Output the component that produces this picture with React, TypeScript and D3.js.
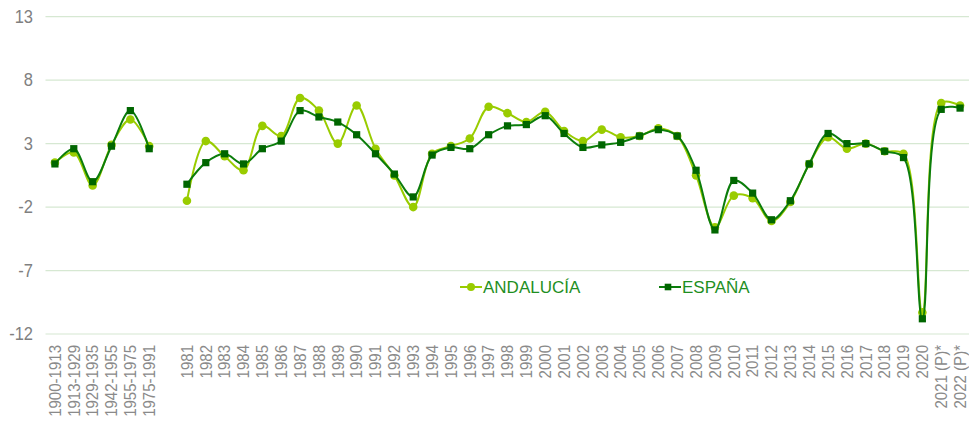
import React from "react";
import * as d3 from "d3";

const categories: string[] = [
  "1900-1913", "1913-1929", "1929-1935", "1942-1955", "1955-1975", "1975-1991", "",
  "1981", "1982", "1983", "1984", "1985", "1986", "1987", "1988", "1989", "1990",
  "1991", "1992", "1993", "1994", "1995", "1996", "1997", "1998", "1999", "2000",
  "2001", "2002", "2003", "2004", "2005", "2006", "2007", "2008", "2009", "2010",
  "2011", "2012", "2013", "2014", "2015", "2016", "2017", "2018", "2019", "2020",
  "2021 (P)*", "2022 (P)*",
];

const andalucia: (number | null)[] = [
  1.5, 2.3, -0.3, 2.9, 4.9, 2.8, null,
  -1.5, 3.2, 2.0, 0.9, 4.4, 3.6, 6.6, 5.6, 3.0, 6.0,
  2.6, 0.5, -2.0, 2.2, 2.8, 3.4, 5.9, 5.4, 4.7, 5.5,
  4.0, 3.2, 4.1, 3.5, 3.6, 4.2, 3.6, 0.5, -3.6, -1.1,
  -1.3, -3.1, -1.6, 1.4, 3.5, 2.6, 3.0, 2.4, 2.2, -10.3,
  6.2, 6.0,
];

const espana: (number | null)[] = [
  1.4, 2.6, 0.0, 2.8, 5.6, 2.6, null,
  -0.2, 1.5, 2.2, 1.4, 2.6, 3.2, 5.6, 5.1, 4.7, 3.7,
  2.2, 0.6, -1.2, 2.1, 2.7, 2.6, 3.7, 4.4, 4.5, 5.2,
  3.8, 2.7, 2.9, 3.1, 3.6, 4.1, 3.6, 0.9, -3.8, 0.1,
  -0.9, -3.0, -1.5, 1.4, 3.8, 3.0, 3.0, 2.4, 1.9, -10.8,
  5.7, 5.8,
];

const yTicks: number[] = [13, 8, 3, -2, -7, -12];
const seriesNames: string[] = ["ANDALUCÍA", "ESPAÑA"];

const W = 969;
const H = 421;
const FONT = "'Liberation Sans', Arial, sans-serif";
const COL_A = "#99cc00";
const COL_E_LINE = "#0b7d0b";
const COL_E_MARK = "#006600";

export default function App() {
  const x = d3.scaleBand<string>()
    .domain(categories.map((c, i) => String(i)))
    .range([45.5, 969.5])
    .padding(0);
  const cx = (i: number) => (x(String(i)) as number) + x.bandwidth() / 2;
  const y = d3.scaleLinear().domain([-12, 13]).range([334, 16.7]);

  const line = d3.line<number | null>()
    .defined((d) => d !== null)
    .x((_, i) => cx(i))
    .y((d) => y(d as number))
    .curve(d3.curveCatmullRom.alpha(0.5));

  const legendY = 287;

  return (
    <svg width={W} height={H} style={{ position: "absolute", left: 0, top: 0 }}>
      <rect x={0} y={0} width={W} height={H} fill="#ffffff" />
      {yTicks.map((t) => (
        <g key={t}>
          <line x1={45.5} x2={969} y1={y(t)} y2={y(t)} stroke="#d6e8d2" strokeWidth={1.2} />
          <text
            transform={`translate(33,${y(t)}) scale(1,1.06)`}
            dy="0.36em"
            textAnchor="end"
            fontFamily={FONT}
            fontSize={16.5}
            fill="#808080"
          >
            {t}
          </text>
        </g>
      ))}
      {categories.map((c, i) => (
        <text
          key={i}
          transform={`translate(${cx(i) + 5.8},${345}) rotate(-90) scale(0.94,1)`}
          textAnchor="end"
          fontFamily={FONT}
          fontSize={16}
          fill="#8a8a8a"
        >
          {c}
        </text>
      ))}
      <path d={line(andalucia) || ""} fill="none" stroke={COL_A} strokeWidth={2} />
      {andalucia.map((v, i) =>
        v === null ? null : <circle key={i} cx={cx(i)} cy={y(v)} r={4.3} fill={COL_A} />
      )}
      <path d={line(espana) || ""} fill="none" stroke={COL_E_LINE} strokeWidth={2} />
      {espana.map((v, i) =>
        v === null ? null : (
          <rect key={i} x={cx(i) - 3.6} y={y(v) - 3.6} width={7.2} height={7.2} fill={COL_E_MARK} />
        )
      )}
      {/* legend */}
      <g>
        <line x1={460} x2={482} y1={legendY} y2={legendY} stroke={COL_A} strokeWidth={2} />
        <circle cx={471} cy={legendY} r={4} fill={COL_A} />
        <text x={483} y={legendY} dy="0.36em" fontFamily={FONT} fontSize={17} fill="#1f8f1f">
          {seriesNames[0]}
        </text>
        <line x1={659} x2={681} y1={legendY} y2={legendY} stroke={COL_E_LINE} strokeWidth={2} />
        <rect x={668 - 3.3} y={legendY - 3.3} width={6.6} height={6.6} fill={COL_E_MARK} />
        <text x={682} y={legendY} dy="0.36em" fontFamily={FONT} fontSize={17} fill="#1f8f1f">
          {seriesNames[1]}
        </text>
      </g>
    </svg>
  );
}
